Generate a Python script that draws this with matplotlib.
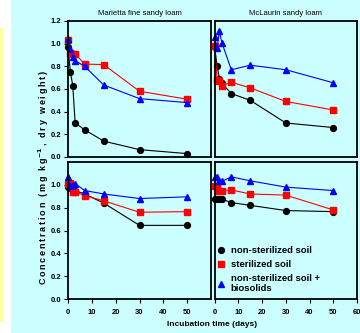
import matplotlib.pyplot as plt
from matplotlib.patches import Rectangle

plt.rcParams['font.family'] = ['Liberation Sans', 'DejaVu Sans']
plt.rcParams['font.weight'] = 'bold'

days = [0, 1, 2, 3, 7, 15, 30, 50]

# Marietta fine sandy loam, top row
mar_top_ns = [0.97, 0.75, 0.63, 0.30, 0.24, 0.14, 0.065, 0.03]
mar_top_st = [1.03, 0.92, 0.91, 0.91, 0.82, 0.815, 0.58, 0.51]
mar_top_bs = [1.04, 0.95, 0.88, 0.85, 0.80, 0.635, 0.515, 0.48]

# McLaurin sandy loam, top row
mcl_top_ns = [0.97, 0.805, 0.69, 0.65, 0.56, 0.50, 0.30, 0.26]
mcl_top_st = [0.975, 0.68, 0.67, 0.63, 0.66, 0.61, 0.49, 0.415]
mcl_top_bs = [1.06, 0.96, 1.11, 1.01, 0.77, 0.81, 0.77, 0.655]

# bottom row
mar_bot_ns = [0.98, 0.97, 0.96, 0.95, 0.92, 0.84, 0.645, 0.645]
mar_bot_st = [1.01, 1.02, 0.94, 0.94, 0.905, 0.86, 0.76, 0.765]
mar_bot_bs = [1.07, 0.99, 1.0, 1.01, 0.95, 0.92, 0.88, 0.895]

mcl_bot_ns = [0.875, 0.875, 0.875, 0.875, 0.845, 0.82, 0.775, 0.765]
mcl_bot_st = [0.99, 0.99, 0.95, 0.95, 0.955, 0.92, 0.91, 0.78]
mcl_bot_bs = [1.07, 1.07, 1.03, 1.03, 1.07, 1.035, 0.98, 0.95]

labels = ['non-sterilized soil', 'sterilized soil',
          'non-sterilized soil +\nbiosolids']

bg = '#CCFFFF'
W, H = 360, 333

fig = plt.figure(figsize=(3.6, 3.33), dpi=100, facecolor=bg)
fig.patches.append(Rectangle((0, 0), 11 / W, 1, transform=fig.transFigure,
                             facecolor='white', edgecolor='none'))
fig.patches.append(Rectangle((0, 1 - 322 / H), 3 / W, 294 / H,
                             transform=fig.transFigure,
                             facecolor='#FFFF99', edgecolor='none'))


def make_ax(x0, x1, y0, y1):
    return fig.add_axes([x0 / W, 1 - y1 / H, (x1 - x0) / W, (y1 - y0) / H])


axes = [[make_ax(68, 211, 21, 157), make_ax(214.7, 357, 21, 157)],
        [make_ax(68, 211, 162, 299), make_ax(214.7, 357, 162, 299)]]

data = [[(mar_top_ns, mar_top_st, mar_top_bs), (mcl_top_ns, mcl_top_st, mcl_top_bs)],
        [(mar_bot_ns, mar_bot_st, mar_bot_bs), (mcl_bot_ns, mcl_bot_st, mcl_bot_bs)]]

styles = [('black', 'o'), ('red', 's'), ('blue', '^')]
yt_top = [0, 0.2, 0.4, 0.6, 0.8, 1.0, 1.2]
yt_bot = [0, 0.2, 0.4, 0.6, 0.8, 1.0]

for r in range(2):
    for c in range(2):
        ax = axes[r][c]
        ax.set_facecolor(bg)
        for ser, (col, mk), lab in zip(data[r][c], styles, labels):
            ax.plot(days, ser, color=col, marker=mk, markersize=4.2, lw=0.8,
                    label=lab, clip_on=False)
        ax.set_xlim(0, 60)
        ax.set_ylim(0, 1.2)
        for s in ax.spines.values():
            s.set_linewidth(1.3)
        ax.tick_params(direction='out', length=3, width=0.8, labelsize=5.5,
                       pad=2)
        ax.tick_params(axis='x', pad=4)
        if c == 0:
            yt = yt_top if r == 0 else yt_bot
            ax.set_yticks(yt)
            ax.set_yticklabels([f'{v:.1f}' for v in yt])
        else:
            ax.set_yticks([])
        if r == 1:
            ax.set_xticks([0, 10, 20, 30, 40, 50] if c == 0 else [0, 10, 20, 30, 40, 50, 60])
        else:
            ax.set_xticks([])

axes[0][0].set_title('Marietta fine sandy loam', fontsize=5.5, pad=4)
axes[0][1].set_title('McLaurin sandy loam', fontsize=5.5, pad=4)

leg = axes[1][1].legend(loc='upper left', bbox_to_anchor=(0.02, 0.385),
                        frameon=False, handlelength=0.8, handletextpad=0.6,
                        borderpad=0, borderaxespad=0, labelspacing=0.5,
                        prop={'weight': 'bold', 'size': 6.8})
for h in leg.legend_handles:
    h.set_linestyle('none')

ts = '\u2009'
ylab = ts.join('Concentration (mg kg') + '$^{-1}$' + ts + ts.join(', dry weight)')
fig.text(44 / W, 1 - 177 / H, ylab,
         rotation=90, ha='center', va='center', fontsize=6.5)
fig.text(212 / W, 1 - 325 / H, 'Incubation time (days)',
         ha='center', va='center', fontsize=6)

fig.savefig('out.png', dpi=100, facecolor=bg)
